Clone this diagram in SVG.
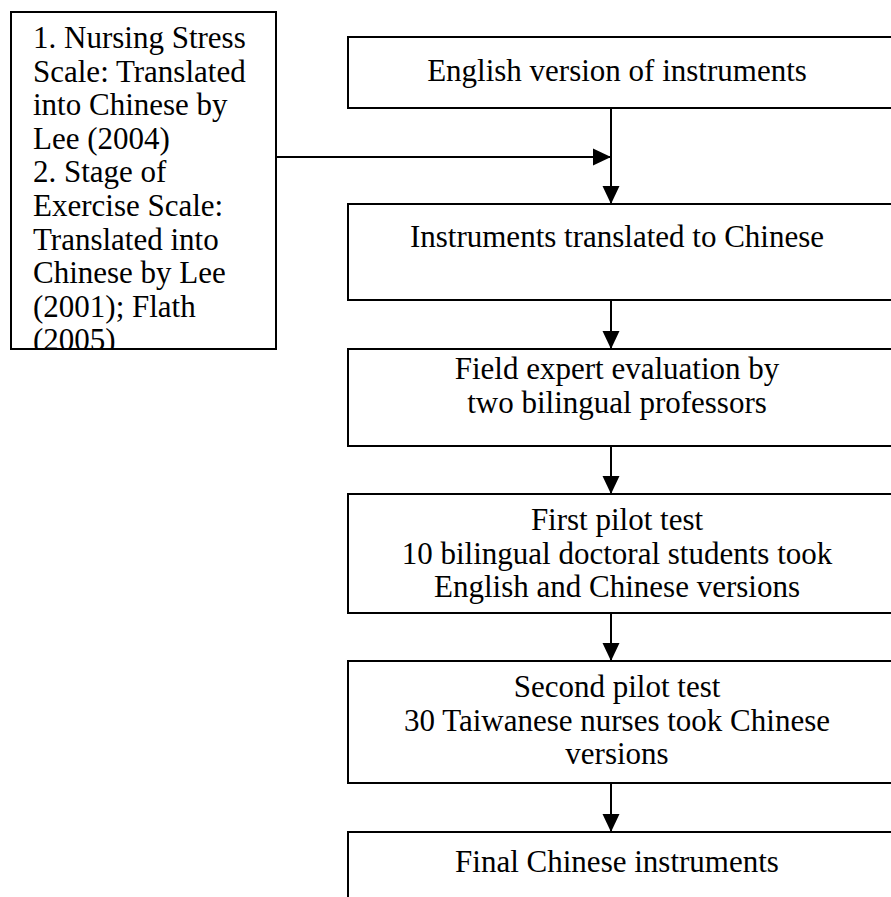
<svg xmlns="http://www.w3.org/2000/svg" width="891" height="897" viewBox="0 0 891 897">
  <style>
    .box { fill: #ffffff; stroke: #000000; stroke-width: 2; }
    .txt { font-family: "Liberation Serif", "Times New Roman", serif; font-size: 31px; fill: #000000; }
    .mid { text-anchor: middle; }
    .link { stroke: #000000; stroke-width: 2; fill: none; marker-end: url(#head); }
  </style>
  <defs>
    <marker id="head" markerUnits="userSpaceOnUse" markerWidth="19" markerHeight="19" viewBox="0 0 19 19" refX="18" refY="9.5" orient="auto">
      <path d="M0,1 L18,9.5 L0,18 Z" fill="#000000"/>
    </marker>
    <clipPath id="srcClip">
      <rect x="12" y="13" width="263" height="335"/>
    </clipPath>
  </defs>
  <rect width="891" height="897" fill="#ffffff"/>

  <g id="source-note">
    <rect class="box" x="11" y="12" width="265" height="337"/>
    <g clip-path="url(#srcClip)">
      <text class="txt" x="33" y="48">1. Nursing Stress</text>
      <text class="txt" x="33" y="81.6">Scale: Translated</text>
      <text class="txt" x="33" y="115.2">into Chinese by</text>
      <text class="txt" x="33" y="148.8">Lee (2004)</text>
      <text class="txt" x="33" y="182.4">2. Stage of</text>
      <text class="txt" x="33" y="216">Exercise Scale:</text>
      <text class="txt" x="33" y="249.6">Translated into</text>
      <text class="txt" x="33" y="283.2">Chinese by Lee</text>
      <text class="txt" x="33" y="316.8">(2001); Flath</text>
      <text class="txt" x="33" y="350.4">(2005)</text>
    </g>
  </g>

  <g id="english-version">
    <rect class="box" x="348" y="37" width="560" height="71"/>
    <text class="txt mid" x="617" y="81">English version of instruments</text>
  </g>

  <g id="translated">
    <rect class="box" x="348" y="204" width="560" height="96"/>
    <text class="txt mid" x="617" y="247">Instruments translated to Chinese</text>
  </g>

  <g id="expert-evaluation">
    <rect class="box" x="348" y="349" width="560" height="97"/>
    <text class="txt mid" x="617" y="379">Field expert evaluation by</text>
    <text class="txt mid" x="617" y="412.6">two bilingual professors</text>
  </g>

  <g id="first-pilot">
    <rect class="box" x="348" y="494" width="560" height="119"/>
    <text class="txt mid" x="617" y="530">First pilot test</text>
    <text class="txt mid" x="617" y="563.6">10 bilingual doctoral students took</text>
    <text class="txt mid" x="617" y="597.2">English and Chinese versions</text>
  </g>

  <g id="second-pilot">
    <rect class="box" x="348" y="661" width="560" height="122"/>
    <text class="txt mid" x="617" y="697">Second pilot test</text>
    <text class="txt mid" x="617" y="730.6">30 Taiwanese nurses took Chinese</text>
    <text class="txt mid" x="617" y="764.2">versions</text>
  </g>

  <g id="final-instruments">
    <rect class="box" x="348" y="832" width="560" height="90"/>
    <text class="txt mid" x="617" y="872">Final Chinese instruments</text>
  </g>

  <g id="connectors">
    <line class="link" x1="276" y1="157" x2="611" y2="157"/>
    <line class="link" x1="611" y1="108" x2="611" y2="204"/>
    <line class="link" x1="611" y1="300" x2="611" y2="349"/>
    <line class="link" x1="611" y1="446" x2="611" y2="494"/>
    <line class="link" x1="611" y1="613" x2="611" y2="661"/>
    <line class="link" x1="611" y1="783" x2="611" y2="832"/>
  </g>
</svg>
